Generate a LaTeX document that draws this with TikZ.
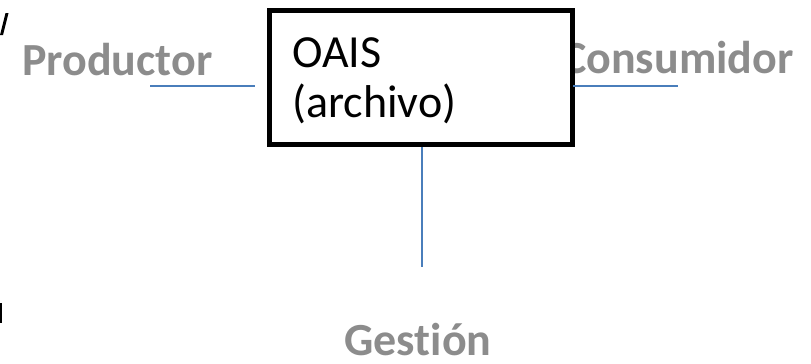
\documentclass[tikz,border=0pt]{standalone}
\usepackage{fontspec}
\setmainfont[Ligatures=NoCommon]{Carlito}
\definecolor{lblgray}{HTML}{8C8C8C}
\definecolor{linkblue}{HTML}{4A7EBB}
\begin{document}
\begin{tikzpicture}[x=1pt,y=-1pt,
  lbl/.style={inner sep=0pt,text=lblgray,font=\fontsize{46}{50}\selectfont\bfseries},
  boxtxt/.style={inner sep=0pt,text=black,font=\fontsize{46}{50}\selectfont},
  link/.style={draw=linkblue,line width=1.5pt},
  archbox/.style={draw=black,fill=white,line width=5pt,rectangle,inner sep=0pt,minimum width=303pt,minimum height=134pt}]
\useasboundingbox (0,0) rectangle (811,364);
% cropped fragments at the left edge
\fill[black] (5.5,13) -- (8.5,13) -- (3,35) -- (0,35) -- cycle;
\fill[black] (0,303) rectangle (2,323);
% labels
\node[lbl,anchor=base west] (prod) at (22,75) {Productor};
\node[lbl,anchor=base west] (cons) at (562,73) {Consumidor};
\node[lbl,anchor=base] (gest) at (418,355) {Gestión};
% box
\node[archbox] (oais) at (421,77.5) {};
\node[boxtxt,anchor=base west] (t1) at (292,67) {OAIS};
\node[boxtxt,anchor=base west] (t2) at (292,117) {(archivo)};
% connectors
\coordinate (pl) at (150,86);
\coordinate (pr) at (255,86);
\coordinate (cl) at (573,86);
\coordinate (cr) at (678,86);
\coordinate (gb) at (422,267);
\draw[link] (pl) -- (pr);
\draw[link] (cl) -- (cr);
\draw[link] (oais.south -| gb) -- (gb);
\end{tikzpicture}
\end{document}
